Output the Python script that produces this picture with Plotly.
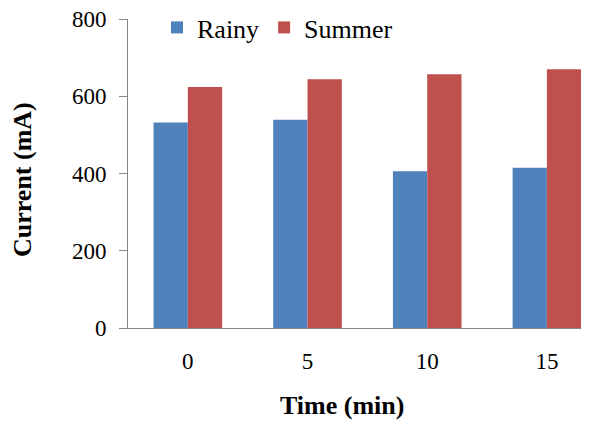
import plotly.graph_objects as go

times = ["0", "5", "10", "15"]
rainy = [532, 539, 406, 415]
summer = [624, 644, 657, 670]

BLUE = "#4F81BD"
RED = "#C0504D"
AXIS = "#868686"
FONT = "Liberation Serif, Times New Roman, serif"

fig = go.Figure()
fig.add_trace(go.Bar(name="Rainy", x=times, y=rainy, marker=dict(color=BLUE, line=dict(width=0))))
fig.add_trace(go.Bar(name="Summer", x=times, y=summer, marker=dict(color=RED, line=dict(width=0))))

W, H = 603, 423
L, R, T, B = 128, 22, 19, 95
pw = W - L - R
ph = H - T - B

def px_x(p):
    return (p - L) / pw

def px_y(p):
    return (H - B - p) / ph

fig.update_layout(
    width=W, height=H,
    margin=dict(l=L, r=R, t=T, b=B, pad=0, autoexpand=False),
    paper_bgcolor="white", plot_bgcolor="white",
    barmode="group", bargap=0.427, bargroupgap=0,
    font=dict(family=FONT, size=23, color="black"),
    showlegend=True,
    legend=dict(
        orientation="h", xref="container", yref="container",
        x=157 / W, y=1 - 4 / H, xanchor="left", yanchor="top",
        font=dict(family=FONT, size=26, color="black"),
        bgcolor="rgba(0,0,0,0)",
        itemclick=False, traceorder="normal",
    ),
    xaxis=dict(
        type="category", range=[-0.5, 3.285], showline=True, linecolor=AXIS, linewidth=1,
        ticks="", showgrid=False, zeroline=False,
        tickfont=dict(family=FONT, size=23, color="black"), ticklabelstandoff=12,
    ),
    yaxis=dict(
        range=[0, 800], dtick=200, tick0=0, showline=True, linecolor=AXIS, linewidth=1,
        ticks="outside", ticklen=8, tickcolor=AXIS, tickwidth=1, showgrid=False, zeroline=False,
        tickfont=dict(family=FONT, size=23, color="black"), ticklabelstandoff=8,
    ),
    annotations=[
        dict(text="<b>Current (mA)</b>", textangle=-90, xref="paper", yref="paper",
             x=px_x(22), y=px_y(180), xanchor="center", yanchor="middle", showarrow=False,
             font=dict(family=FONT, size=26, color="black")),
        dict(text="<b>Time (min)</b>", xref="paper", yref="paper",
             x=px_x(342), y=px_y(406), xanchor="center", yanchor="middle", showarrow=False,
             font=dict(family=FONT, size=26, color="black")),
    ],
)

fig.write_html("out.html")
